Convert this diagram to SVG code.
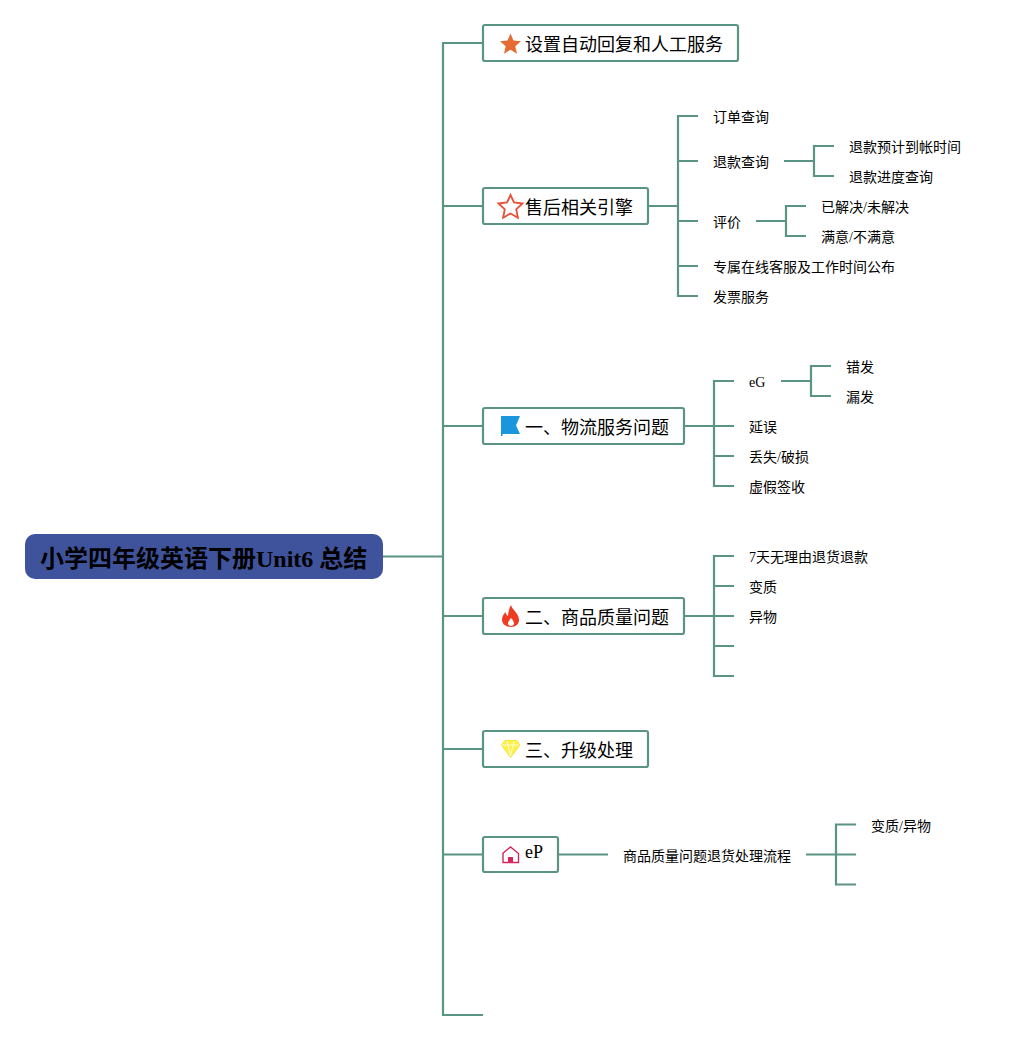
<svg xmlns="http://www.w3.org/2000/svg" width="1021" height="1040" viewBox="0 0 1021 1040">
<style>
.c{fill:none;stroke:#5b9484;stroke-width:2.200}
.b{fill:#fff;stroke:#5b9484;stroke-width:2.200}
text{font-family:"Liberation Serif","Noto Sans CJK SC",serif;fill:#000}
.t{font-size:18px}
.s{font-size:14px}
</style>
<rect width="1021" height="1040" fill="#fff"/>
<g id="connectors">
<path class="c" d="M383 556.500H443M483 43H443V1015H483M443 206H483M443 426H483M443 616H483M443 749H483M443 854.500H483"/>
<path class="c" d="M649 206H678M698 116H678V296H698M678 161H698M678 221H698M678 266H698"/>
<path class="c" d="M784 161H814M834 146H814V176H834"/>
<path class="c" d="M756 221H786M806 206H786V236H806"/>
<path class="c" d="M685 426H714M734 381H714V486H734M714 426H734M714 456H734"/>
<path class="c" d="M781 381H811M831 366H811V396H831"/>
<path class="c" d="M685 616H714M734 556H714V676H734M714 586H734M714 616H734M714 646H734"/>
<path class="c" d="M559 854.500H608"/>
<path class="c" d="M806 854.500H836M856 824.500H836V884.500H856M836 854.500H856"/>
</g>
<g id="root"><rect x="25" y="534" width="358" height="45" rx="10" fill="#3f539d"/><text x="40" y="567" font-size="24" font-weight="bold">小学四年级英语下册Unit6 总结</text></g>
<g id="n1"><rect class="b" x="483" y="25" width="255" height="36" rx="2"/><path d="M510.500 33.500l3 7 7.500.7-5.700 5 1.700 7.500-6.500-4-6.500 4 1.700-7.500-5.700-5 7.500-.7z" fill="#e56b35"/><text class="t" x="525" y="51">设置自动回复和人工服务</text></g>
<g id="n2"><rect class="b" x="483" y="188" width="165" height="36" rx="2"/><path d="M510.500 195l3.500 7.500 8.500 1-6.300 5.800 1.700 8.400-7.400-4.200-7.400 4.200 1.700-8.400-6.300-5.800 8.500-1z" fill="none" stroke="#e8503a" stroke-width="1.800"/><text class="t" x="525" y="214">售后相关引擎</text></g>
<g id="n3"><rect class="b" x="483" y="408" width="201" height="36" rx="2"/><path d="M501 416H520L516 425.500L520 434H502.500V436H501Z" fill="#1b96dc"/><text class="t" x="525" y="434">一、物流服务问题</text></g>
<g id="n4"><rect class="b" x="483" y="598" width="201" height="36" rx="2"/><path d="M511 605c1 5 8 8 8 15 0 4-3 7-8 7s-9-3-9-7c0-4 2-6 3.500-8 .5 2 1 3 2.500 4 .5-4 1-8 3-11z" fill="#ee3b22"/><path d="M511 618c2 2 3 4 3 5.500 0 1.500-1.300 2.500-3 2.500s-3-1-3-2.500c0-1.500 1.500-3.500 3-5.500z" fill="#fff"/><text class="t" x="525" y="624">二、商品质量问题</text></g>
<g id="n5"><rect class="b" x="483" y="731" width="165" height="36" rx="2"/><path d="M505 740.500H516.500L520 745L510.500 757.500L501.500 745Z" fill="#fff04a" stroke="#f4e33a"/><path d="M502 745H519M507 741L510.500 756L514 741" fill="none" stroke="#fff" stroke-width=".8"/><text class="t" x="525" y="757">三、升级处理</text></g>
<g id="n6"><rect class="b" x="483" y="837" width="75" height="35" rx="2"/><path d="M502.500 853.500L510.500 847L518.500 853.500V862.500H503V853.500" fill="none" stroke="#d2265c" stroke-width="1.400"/><path d="M508 862.500V857H513V862.500Z" fill="#d2265c"/><text class="t" x="525" y="858">eP</text></g>
<g id="l1"><text class="s" x="713" y="122">订单查询</text></g>
<g id="l2"><text class="s" x="713" y="167">退款查询</text></g>
<g id="l3"><text class="s" x="849" y="152">退款预计到帐时间</text></g>
<g id="l4"><text class="s" x="849" y="182">退款进度查询</text></g>
<g id="l5"><text class="s" x="713" y="227">评价</text></g>
<g id="l6"><text class="s" x="821" y="212">已解决/未解决</text></g>
<g id="l7"><text class="s" x="821" y="242">满意/不满意</text></g>
<g id="l8"><text class="s" x="713" y="272">专属在线客服及工作时间公布</text></g>
<g id="l9"><text class="s" x="713" y="302">发票服务</text></g>
<g id="l10"><text class="s" x="749" y="387">eG</text></g>
<g id="l11"><text class="s" x="846" y="372">错发</text></g>
<g id="l12"><text class="s" x="846" y="402">漏发</text></g>
<g id="l13"><text class="s" x="749" y="432">延误</text></g>
<g id="l14"><text class="s" x="749" y="462">丢失/破损</text></g>
<g id="l15"><text class="s" x="749" y="492">虚假签收</text></g>
<g id="l16"><text class="s" x="749" y="562">7天无理由退货退款</text></g>
<g id="l17"><text class="s" x="749" y="592">变质</text></g>
<g id="l18"><text class="s" x="749" y="622">异物</text></g>
<g id="l19"><text class="s" x="623" y="861">商品质量问题退货处理流程</text></g>
<g id="l20"><text class="s" x="871" y="831">变质/异物</text></g>
</svg>
